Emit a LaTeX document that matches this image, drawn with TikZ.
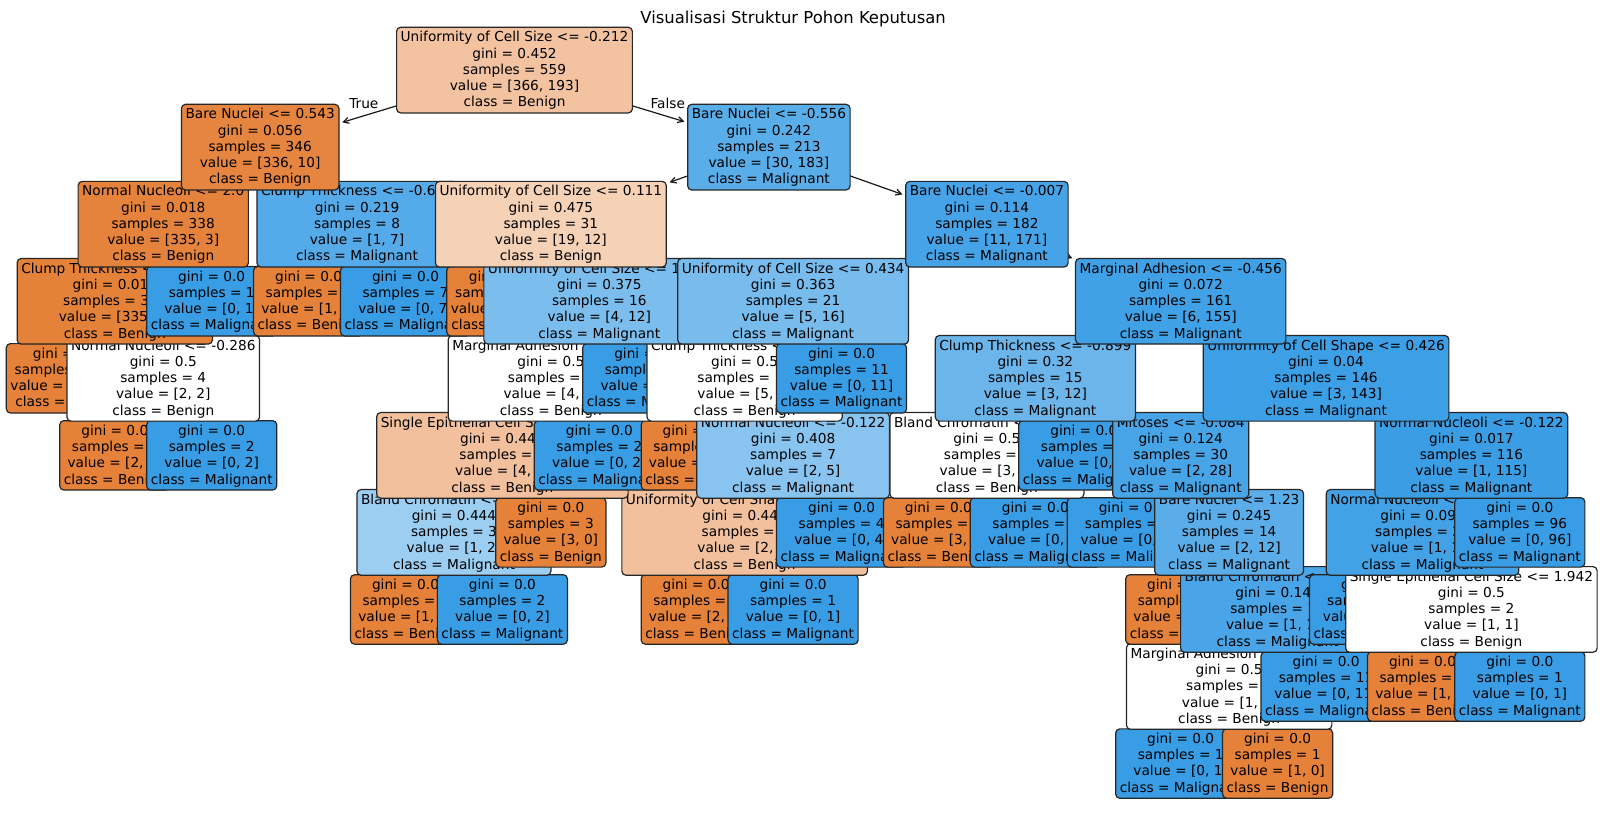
\documentclass[tikz,border=0pt]{standalone}
\usepackage{fontspec}
\setmainfont{DejaVu Sans}
\usetikzlibrary{arrows.meta}
\definecolor{cB}{RGB}{229,129,57}
\definecolor{cM}{RGB}{57,157,229}
\newcommand\mystr{\rule[-3.85pt]{0pt}{16.25pt}}
\tikzset{
  tbox/.style={draw=black!85, line width=1.2pt, rounded corners=4.1pt, inner xsep=4.1pt, inner ysep=2.2pt, align=center, font=\fontsize{13.7}{16.25}\selectfont},
  arr/.style={-{Straight Barb[length=5.5pt,width=6pt]}, line width=1.2pt, black!90, shorten >=2.8pt},
  lbl/.style={font=\fontsize{13.7}{16.25}\selectfont, inner sep=0pt},
}
\newcommand\leafnode[6]{\node[tbox,fill=#2] (#1) at (#3) {\mystr gini = 0.0\\\mystr samples = #4\\\mystr value = #5\\\mystr class = #6};}
\newcommand\splitnode[8]{\node[tbox,fill=#2] (#1) at (#3) {\mystr #4\\\mystr gini = #5\\\mystr samples = #6\\\mystr value = #7\\\mystr class = #8};}
\newcommand\myarr[2]{\draw[arr] (#1) -- (#2);}
\begin{document}
\begin{tikzpicture}[x=1pt,y=-1pt]
\fill[white] (0,0) rectangle (1604,812);
\useasboundingbox (0,0) rectangle (1604,812);
% parent centres
\coordinate (p0) at (514.5,70.1);
\coordinate (p1) at (260.15,147.15);
\coordinate (p12) at (768.9,147.15);
\coordinate (p2) at (163.25,224.2);
\coordinate (p9) at (357.05,224.2);
\coordinate (p13) at (550.85,224.2);
\coordinate (p24) at (986.9,224.2);
\coordinate (p3) at (114.8,301.25);
\coordinate (p15) at (599.3,301.25);
\coordinate (p25) at (793.1,301.25);
\coordinate (p34) at (1180.7,301.25);
\coordinate (p5) at (163.25,378.3);
\coordinate (p16) at (550.85,378.3);
\coordinate (p26) at (744.65,378.3);
\coordinate (p35) at (1035.35,378.3);
\coordinate (p40) at (1326.05,378.3);
\coordinate (p17) at (502.4,455.35);
\coordinate (p28) at (793.1,455.35);
\coordinate (p36) at (986.9,455.35);
\coordinate (p41) at (1180.7,455.35);
\coordinate (p50) at (1471.4,455.35);
\coordinate (p18) at (453.95,532.4);
\coordinate (p29) at (744.65,532.4);
\coordinate (p43) at (1229.15,532.4);
\coordinate (p51) at (1422.5,532.4);
\coordinate (p45) at (1277.6,609.45);
\coordinate (p53) at (1471.4,609.45);
\coordinate (p46) at (1229.15,686.5);
% title and edge labels
\node[anchor=base, inner sep=0pt, font=\fontsize{16.44}{19}\selectfont] (title) at (793.1,23.5) {Visualisasi Struktur Pohon Keputusan};
\node[lbl, anchor=base east] (ltrue) at (378.6,108.6) {True};
\node[lbl, anchor=base west] (lfalse) at (650.4,108.6) {False};
% depth 9
\leafnode{n47}{cM}{1180.7,763.55}{1}{[0, 1]}{Malignant}\myarr{p46}{n47}
\leafnode{n48}{cB}{1277.6,763.55}{1}{[1, 0]}{Benign}\myarr{p46}{n48}
% depth 8
\splitnode{n46}{white}{1229.15,686.5}{Marginal Adhesion <= 0.264}{0.5}{2}{[1, 1]}{Benign}\myarr{p45}{n46}
\leafnode{n49}{cM}{1326.05,686.5}{11}{[0, 11]}{Malignant}\myarr{p45}{n49}
\leafnode{n54}{cB}{1422.5,686.5}{1}{[1, 0]}{Benign}\myarr{p53}{n54}
\leafnode{n55}{cM}{1519.85,686.5}{1}{[0, 1]}{Malignant}\myarr{p53}{n55}
% depth 7
\leafnode{n19}{cB}{405.5,609.45}{1}{[1, 0]}{Benign}\myarr{p18}{n19}
\leafnode{n20}{cM}{502.4,609.45}{2}{[0, 2]}{Malignant}\myarr{p18}{n20}
\leafnode{n30}{cB}{696.2,609.45}{2}{[2, 0]}{Benign}\myarr{p29}{n30}
\leafnode{n31}{cM}{793.1,609.45}{1}{[0, 1]}{Malignant}\myarr{p29}{n31}
\leafnode{n44}{cB}{1180.7,609.45}{1}{[1, 0]}{Benign}\myarr{p43}{n44}
\splitnode{n45}{cM!91.7!white}{1277.6,609.45}{Bland Chromatin <= 0.568}{0.142}{13}{[1, 12]}{Malignant}\myarr{p43}{n45}
\leafnode{n52}{cM}{1374.5,609.45}{18}{[0, 18]}{Malignant}\myarr{p51}{n52}
\splitnode{n53}{white}{1471.4,609.45}{Single Epithelial Cell Size <= 1.942}{0.5}{2}{[1, 1]}{Benign}\myarr{p51}{n53}
% depth 6
\splitnode{n18}{cM!50!white}{453.95,532.4}{Bland Chromatin <= 0.917}{0.444}{3}{[1, 2]}{Malignant}\myarr{p17}{n18}
\leafnode{n21}{cB}{550.85,532.4}{3}{[3, 0]}{Benign}\myarr{p17}{n21}
\splitnode{n29}{cB!50!white}{744.65,532.4}{Uniformity of Cell Shape <= 0.597}{0.444}{3}{[2, 1]}{Benign}\myarr{p28}{n29}
\leafnode{n32}{cM}{841.55,532.4}{4}{[0, 4]}{Malignant}\myarr{p28}{n32}
\leafnode{n37}{cB}{938.45,532.4}{3}{[3, 0]}{Benign}\myarr{p36}{n37}
\leafnode{n38}{cM}{1035.35,532.4}{3}{[0, 3]}{Malignant}\myarr{p36}{n38}
\leafnode{n42}{cM}{1132.25,532.4}{16}{[0, 16]}{Malignant}\myarr{p41}{n42}
\splitnode{n43}{cM!83.3!white}{1229.15,532.4}{Bare Nuclei <= 1.23}{0.245}{14}{[2, 12]}{Malignant}\myarr{p41}{n43}
\splitnode{n51}{cM!94.7!white}{1422.5,532.4}{Normal Nucleoli <= -0.449}{0.095}{20}{[1, 19]}{Malignant}\myarr{p50}{n51}
\leafnode{n56}{cM}{1519.85,532.4}{96}{[0, 96]}{Malignant}\myarr{p50}{n56}
% depth 5
\leafnode{n6}{cB}{114.8,455.35}{2}{[2, 0]}{Benign}\myarr{p5}{n6}
\leafnode{n7}{cM}{211.7,455.35}{2}{[0, 2]}{Malignant}\myarr{p5}{n7}
\splitnode{n17}{cB!50!white}{502.4,455.35}{Single Epithelial Cell Size <= 0.587}{0.444}{6}{[4, 2]}{Benign}\myarr{p16}{n17}
\leafnode{n22}{cM}{599.3,455.35}{2}{[0, 2]}{Malignant}\myarr{p16}{n22}
\leafnode{n27}{cB}{696.2,455.35}{3}{[3, 0]}{Benign}\myarr{p26}{n27}
\splitnode{n28}{cM!60!white}{793.1,455.35}{Normal Nucleoli <= -0.122}{0.408}{7}{[2, 5]}{Malignant}\myarr{p26}{n28}
\splitnode{n36}{white}{986.9,455.35}{Bland Chromatin <= 0.568}{0.5}{6}{[3, 3]}{Benign}\myarr{p35}{n36}
\leafnode{n39}{cM}{1083.8,455.35}{9}{[0, 9]}{Malignant}\myarr{p35}{n39}
\splitnode{n41}{cM!92.86!white}{1180.7,455.35}{Mitoses <= -0.084}{0.124}{30}{[2, 28]}{Malignant}\myarr{p40}{n41}
\splitnode{n50}{cM!99.13!white}{1471.4,455.35}{Normal Nucleoli <= -0.122}{0.017}{116}{[1, 115]}{Malignant}\myarr{p40}{n50}
% depth 4
\leafnode{n4}{cB}{66.35,378.3}{333}{[333, 0]}{Benign}\myarr{p3}{n4}
\splitnode{n5}{white}{163.25,378.3}{Normal Nucleoli <= -0.286}{0.5}{4}{[2, 2]}{Benign}\myarr{p3}{n5}
\splitnode{n16}{white}{550.85,378.3}{Marginal Adhesion <= 0.264}{0.5}{8}{[4, 4]}{Benign}\myarr{p15}{n16}
\leafnode{n23}{cM}{647.75,378.3}{8}{[0, 8]}{Malignant}\myarr{p15}{n23}
\splitnode{n26}{white}{744.65,378.3}{Clump Thickness <= 0.382}{0.5}{10}{[5, 5]}{Benign}\myarr{p25}{n26}
\leafnode{n33}{cM}{841.55,378.3}{11}{[0, 11]}{Malignant}\myarr{p25}{n33}
\splitnode{n35}{cM!75!white}{1035.35,378.3}{Clump Thickness <= -0.899}{0.32}{15}{[3, 12]}{Malignant}\myarr{p34}{n35}
\splitnode{n40}{cM!97.9!white}{1326.05,378.3}{Uniformity of Cell Shape <= 0.426}{0.04}{146}{[3, 143]}{Malignant}\myarr{p34}{n40}
% depth 3
\splitnode{n3}{cB!99.4!white}{114.8,301.25}{Clump Thickness <= 0.559}{0.012}{337}{[335, 2]}{Benign}\myarr{p2}{n3}
\leafnode{n8}{cM}{211.7,301.25}{1}{[0, 1]}{Malignant}\myarr{p2}{n8}
\leafnode{n10}{cB}{308.6,301.25}{1}{[1, 0]}{Benign}\myarr{p9}{n10}
\leafnode{n11}{cM}{405.5,301.25}{7}{[0, 7]}{Malignant}\myarr{p9}{n11}
\leafnode{n14}{cB}{502.4,301.25}{15}{[15, 0]}{Benign}\myarr{p13}{n14}
\splitnode{n15}{cM!66.7!white}{599.3,301.25}{Uniformity of Cell Size <= 1.126}{0.375}{16}{[4, 12]}{Malignant}\myarr{p13}{n15}
\splitnode{n25}{cM!68.75!white}{793.1,301.25}{Uniformity of Cell Size <= 0.434}{0.363}{21}{[5, 16]}{Malignant}\myarr{p24}{n25}
\splitnode{n34}{cM!96.1!white}{1180.7,301.25}{Marginal Adhesion <= -0.456}{0.072}{161}{[6, 155]}{Malignant}\myarr{p24}{n34}
% depth 2
\splitnode{n2}{cB!99.1!white}{163.25,224.2}{Normal Nucleoli <= 2.0}{0.018}{338}{[335, 3]}{Benign}\myarr{p1}{n2}
\splitnode{n9}{cM!85.7!white}{357.05,224.2}{Clump Thickness <= -0.675}{0.219}{8}{[1, 7]}{Malignant}\myarr{p1}{n9}
\splitnode{n13}{cB!36.8!white}{550.85,224.2}{Uniformity of Cell Size <= 0.111}{0.475}{31}{[19, 12]}{Benign}\myarr{p12}{n13}
\splitnode{n24}{cM!93.57!white}{986.9,224.2}{Bare Nuclei <= -0.007}{0.114}{182}{[11, 171]}{Malignant}\myarr{p12}{n24}
% depth 1
\splitnode{n1}{cB!97!white}{260.15,147.15}{Bare Nuclei <= 0.543}{0.056}{346}{[336, 10]}{Benign}\myarr{p0}{n1}
\splitnode{n12}{cM!83.6!white}{768.9,147.15}{Bare Nuclei <= -0.556}{0.242}{213}{[30, 183]}{Malignant}\myarr{p0}{n12}
% depth 0
\splitnode{n0}{cB!47.27!white}{514.5,70.1}{Uniformity of Cell Size <= -0.212}{0.452}{559}{[366, 193]}{Benign}
\end{tikzpicture}
\end{document}
